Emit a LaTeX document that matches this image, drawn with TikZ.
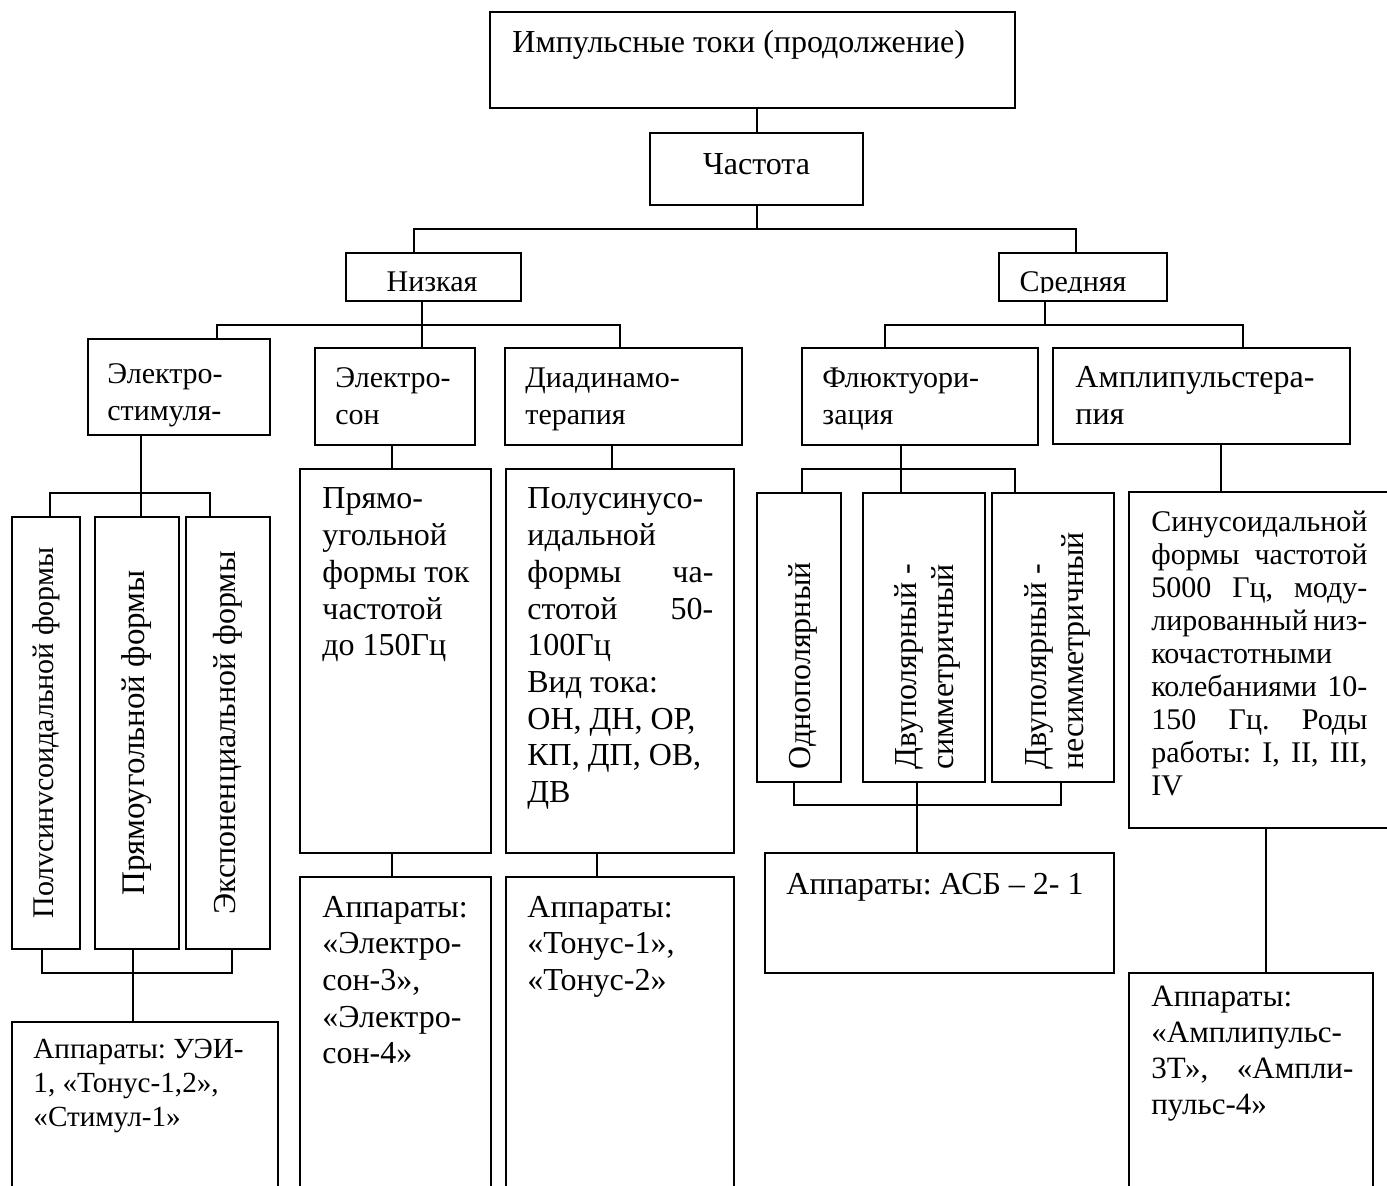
\documentclass[tikz,border=0pt]{standalone}
\usepackage{fontspec}
\setmainfont{Liberation Serif}
\usepackage{tikz}
\frenchspacing
\newcommand{\tfont}{\fontsize{16}{18.35}\selectfont}
\newcommand{\mfont}{\fontsize{15}{18.35}\selectfont}
\newcommand{\rfont}{\fontsize{16}{18.5}\selectfont}
\newcommand{\sfont}{\fontsize{15}{16.5}\selectfont}
\newcommand{\afont}{\fontsize{14.6}{17}\selectfont}
\newcommand{\txtlines}[1]{\begin{tabular}[t]{@{}l@{}}#1\end{tabular}}
\newcommand{\jline}[2]{\makebox[#1][s]{#2}}
\tikzset{
  cbox/.style={draw, line width=1pt, inner sep=0pt, outer sep=0pt, rectangle},
  txt/.style={inner sep=0pt, anchor=base west, font=\tfont},
  vtxt/.style={inner sep=0pt, rotate=90, font=\tfont},
  link/.style={line width=1pt}
}
\newcommand{\blk}[5]{\node[cbox, minimum width={(#4-#2)*0.5pt}, minimum height={(#5-#3)*0.5pt}] (#1) at ({(#2+#4)/2},{(#3+#5)/2}) {};}

\begin{document}
\begin{tikzpicture}[x=0.5pt,y=-0.5pt]
    \useasboundingbox (0,0) rectangle (1387,1186);
    % level 1
    \blk{imp}{490}{12}{1015}{108}
    \blk{chast}{650}{133}{863}{205}
    \node[txt] (impT) at (512,53) {Импульсные токи (продолжение)};
    \node[txt, anchor=base] (chastT) at (756.5,175) {Частота};
    % level 2
    \blk{nizk}{346}{253}{521}{301}
    \blk{sred}{999}{253}{1167}{301}
    \begin{scope}
        \clip (nizk.north west) rectangle ([yshift=4.25pt]nizk.south east);
        \node[txt, font=\mfont, anchor=base] (nizkT) at (432,292) {Низкая};
    \end{scope}
    \begin{scope}
        \clip (sred.north west) rectangle ([yshift=4.25pt]sred.south east);
        \node[txt, font=\mfont, anchor=base] (sredT) at (1073,292) {Средняя};
    \end{scope}
    % level 3
    \blk{elstim}{88}{339}{270}{435}
    \blk{elson}{315}{348}{475}{445}
    \blk{diad}{505}{348}{742}{445}
    \blk{fluct}{802}{348}{1038}{445}
    \blk{ampl}{1053}{348}{1350}{444}
    \node[txt, font=\mfont] (elstimT) at (107,384) {\txtlines{Электро-\\стимуля-}};
    \node[txt, font=\mfont] (elsonT) at (335,388) {\txtlines{Электро-\\сон}};
    \node[txt, font=\mfont] (diadT) at (525,388) {\txtlines{Диадинамо-\\терапия}};
    \node[txt, font=\mfont] (fluctT) at (822,388) {\txtlines{Флюктуори-\\зация}};
    \node[txt] (amplT) at (1075,388) {\txtlines{Амплипульстера-\\пия}};
    % level 4
    \blk{f1}{12}{517}{80}{949}
    \blk{f2}{95}{517}{179}{949}
    \blk{f3}{186}{517}{270}{949}
    \blk{pryam}{300}{469}{491}{853}
    \blk{polus}{506}{469}{734}{853}
    \blk{odn}{757}{493}{841}{782}
    \blk{dvs}{863}{493}{985}{782}
    \blk{dvn}{992}{493}{1114}{782}
    \blk{sinus}{1129}{492}{1400}{828}
    \node[vtxt, font=\mfont] (f1T) at (f1) {Полvсинvсоидальной формы};
    \node[vtxt, font=\fontsize{16.5}{18.5}\selectfont] (f2T) at (f2) {Прямоугольной формы};
    \node[vtxt] (f3T) at (f3) {Экспоненциальной формы};
    \node[txt] (pryamT) at (322,509) {\txtlines{Прямо-\\угольной\\формы ток\\частотой\\до 150Гц}};
    \node[txt] (polusT) at (527,509) {\txtlines{Полусинусо-\\идальной\\\jline{93pt}{формы ча-}\\\jline{93pt}{стотой 50-}\\100Гц\\Вид тока:\\ОН, ДН, ОР,\\КП, ДП, ОВ,\\ДВ}};
    \node[vtxt, font=\rfont, anchor=base west] (odnT) at (810,770) {Однополярный};
    \node[vtxt, font=\rfont, anchor=base west] (dvsT) at (916,770) {\txtlines{Двуполярный -\\симметричный}};
    \node[vtxt, font=\rfont, anchor=base west] (dvnT) at (1046,770) {\txtlines{Двуполярный -\\несимметричный}};
    \node[txt, font=\sfont] (sinusT) at (1151,532) {\txtlines{Синусоидальной\\\jline{108pt}{формы частотой}\\\jline{108pt}{5000 Гц, моду-}\\\jline{108pt}{лированный низ-}\\кочастотными\\\jline{108pt}{колебаниями 10-}\\\jline{108pt}{150 Гц. Роды}\\\jline{108pt}{работы: I, II, III,}\\IV}};
    % level 5
    \blk{apStim}{12}{1022}{278}{1200}
    \blk{apSon}{300}{877}{491}{1200}
    \blk{apDiad}{506}{877}{734}{1200}
    \blk{apAsb}{765}{853}{1114}{973}
    \blk{apAmp}{1129}{973}{1373}{1200}
    \node[txt, font=\afont] (apStimT) at (33,1058) {\txtlines{Аппараты: УЭИ-\\1, «Тонус-1,2»,\\«Стимул-1»}};
    \node[txt] (apSonT) at (322,917) {\txtlines{Аппараты:\\«Электро-\\сон-3»,\\«Электро-\\сон-4»}};
    \node[txt] (apDiadT) at (527,917) {\txtlines{Аппараты:\\«Тонус-1»,\\«Тонус-2»}};
    \node[txt] (apAsbT) at (786,894) {Аппараты: АСБ – 2- 1};
    \node[txt, font=\fontsize{15.5}{18}\selectfont] (apAmpT) at (1151,1006) {\txtlines{Аппараты:\\«Амплипульс-\\\jline{101pt}{3Т», «Ампли-}\\пульс-4»}};
    % links
    \draw[link] (imp.south -| chast.north) -- (chast.north);
    \draw[link] (chast.south) -- ++(0,-12pt);
    \draw[link] ([xshift=-9.75pt]nizk.north) -- ++(0,12pt) -| ([xshift=-3.5pt]sred.north);
    \draw[link] ([xshift=-5.75pt]nizk.south) -- ([xshift=13.5pt]elson.north);
    \draw[link] ([xshift=19pt]elstim.north) -- ++(0,7pt) -| ([xshift=-1.75pt]diad.north);
    \draw[link] ([xshift=-19pt]sred.south) -- ++(0,-12pt);
    \draw[link] ([xshift=-17.5pt]fluct.north) -- ++(0,11.5pt) -| ([xshift=20.75pt]ampl.north);
    \draw[link] ([xshift=-19pt]elstim.south) -- ([xshift=2pt]f2.north);
    \draw[link] ([xshift=2pt]f1.north) -- ++(0,12pt) -| ([xshift=-9pt]f3.north);
    \draw[link] ([xshift=-2pt]f1.south) -- ++(0,-12pt) -| ([xshift=2pt]f3.south);
    \draw[link] ([xshift=-2pt]f2.south) -- ([xshift=-6pt]apStim.north);
    \draw[link] ([xshift=-1.5pt]elson.south) -- ([xshift=-1.75pt]pryam.north);
    \draw[link] ([xshift=-5.75pt]diad.south) -- ([xshift=-4pt]polus.north);
    \draw[link] ([xshift=-1.75pt]pryam.south) -- ([xshift=-1.75pt]apSon.north);
    \draw[link] ([xshift=-11.5pt]polus.south) -- ([xshift=-11.5pt]apDiad.north);
    \draw[link] ([xshift=-9.5pt]fluct.south) -- ([xshift=-11.5pt]dvs.north);
    \draw[link] ([xshift=1.5pt]odn.north) -- ++(0,12pt) -| ([xshift=-19pt]dvn.north);
    \draw[link] ([xshift=-2.5pt]odn.south) -- ++(0,-11.5pt) -| ([xshift=4pt]dvn.south);
    \draw[link] ([xshift=-3.5pt]dvs.south) -- ([xshift=-11.25pt]apAsb.north);
    \draw[link] ([xshift=9.75pt]ampl.south) -- ([xshift=-21.75pt]sinus.north);
    \draw[link] ([xshift=0.75pt]sinus.south) -- ([xshift=7.5pt]apAmp.north);
\end{tikzpicture}
\end{document}
